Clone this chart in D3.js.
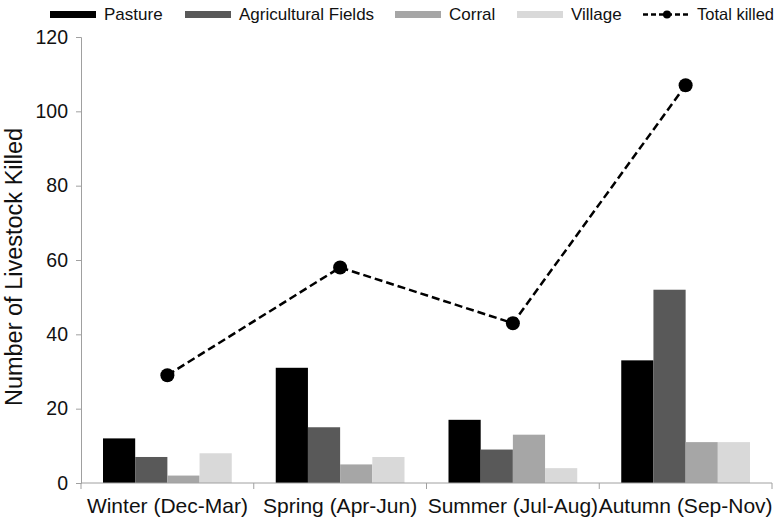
<!DOCTYPE html>
<html>
<head>
<meta charset="utf-8">
<script src="https://cdn.jsdelivr.net/npm/d3@7"></script>
<style>
  body{margin:0;background:#fff;}
  text{font-family:"Liberation Sans",Arial,sans-serif;fill:#111;}
</style>
</head>
<body>
<div id="chart"></div>
<script>
const seasons = ["Winter (Dec-Mar)","Spring (Apr-Jun)","Summer (Jul-Aug)","Autumn (Sep-Nov)"]
const seriesNames = ["Pasture","Agricultural Fields","Corral","Village"]
const pasture = [12,31,17,33]
const agFields = [7,15,9,52]
const corral = [2,5,13,11]
const village = [8,7,4,11]
const totalKilled = [29,58,43,107]
const yTicks = [0,20,40,60,80,100,120]

const colors = ["#000000","#595959","#a6a6a6","#d9d9d9"]
const seriesVals = [pasture,agFields,corral,village]

let width = 774, height = 521,
    margin = {top:37,left:81,right:2,bottom:38},
    innerW = width - margin.left - margin.right,
    innerH = height - margin.top - margin.bottom

const svg = d3.select("#chart").append("svg")
  .attr("width",width).attr("height",height)
const g = svg.append("g").attr("transform",`translate(${margin.left},${margin.top})`)

const x0 = d3.scaleBand().domain(seasons).range([0,innerW])
const x1 = d3.scaleBand().domain(seriesNames).range([22,x0.bandwidth()-22])
const y = d3.scaleLinear().domain([0,120]).range([innerH,0])

// bars
seriesNames.forEach((s,si)=>{
  g.selectAll(".bar"+si)
    .data(seasons)
    .enter().append("rect")
    .attr("x",d=>x0(d)+x1(s))
    .attr("y",(d,i)=>y(seriesVals[si][i]))
    .attr("width",x1.bandwidth())
    .attr("height",(d,i)=>y(0)-y(seriesVals[si][i]))
    .attr("fill",colors[si])
})

// axes
const yAxis = d3.axisLeft(y).tickValues(yTicks).tickSize(5).tickPadding(8)
const yG = g.append("g").call(yAxis)
yG.selectAll("path,line").attr("stroke","#a0a0a0")
yG.selectAll("text").style("font-size","19.5px")

const xG = g.append("g").attr("transform",`translate(0,${innerH})`)
xG.append("line").attr("x1",0).attr("x2",innerW).attr("stroke","#a0a0a0")
const bounds = seasons.map(d=>x0(d)).concat([innerW])
xG.selectAll(".tk").data(bounds).enter().append("line")
  .attr("x1",d=>d).attr("x2",d=>d).attr("y1",0).attr("y2",6).attr("stroke","#a0a0a0")
xG.selectAll(".lbl").data(seasons).enter().append("text")
  .attr("x",d=>x0(d)+x0.bandwidth()/2).attr("y",30)
  .attr("text-anchor","middle").style("font-size","21px").text(d=>d)

// total line
const line = d3.line().x((d,i)=>x0(seasons[i])+x0.bandwidth()/2).y(d=>y(d))
g.append("path").datum(totalKilled).attr("d",line)
  .attr("fill","none").attr("stroke","#000").attr("stroke-width",2.5).attr("stroke-dasharray","8,4")
g.selectAll(".pt").data(totalKilled).enter().append("circle")
  .attr("cx",(d,i)=>x0(seasons[i])+x0.bandwidth()/2).attr("cy",d=>y(d)).attr("r",7).attr("fill","#000")

// y title
svg.append("text").attr("transform",`translate(22,${margin.top+innerH/2+7}) rotate(-90)`)
  .attr("text-anchor","middle").style("font-size","23.5px").text("Number of Livestock Killed")

// legend
const legX = [50,185,395,517]
const leg = svg.append("g")
seriesNames.forEach((s,i)=>{
  leg.append("rect").attr("x",legX[i]).attr("y",11).attr("width",46).attr("height",7).attr("fill",colors[i])
  leg.append("text").attr("x",legX[i]+54).attr("y",20).style("font-size","17px").text(s)
})
leg.append("line").attr("x1",643).attr("x2",690).attr("y1",14.5).attr("y2",14.5)
  .attr("stroke","#000").attr("stroke-width",2.5).attr("stroke-dasharray","5,3")
leg.append("circle").attr("cx",667).attr("cy",14.5).attr("r",4).attr("fill","#000")
leg.append("text").attr("x",697).attr("y",20).style("font-size","16.5px").text("Total killed")
</script>
</body>
</html>
